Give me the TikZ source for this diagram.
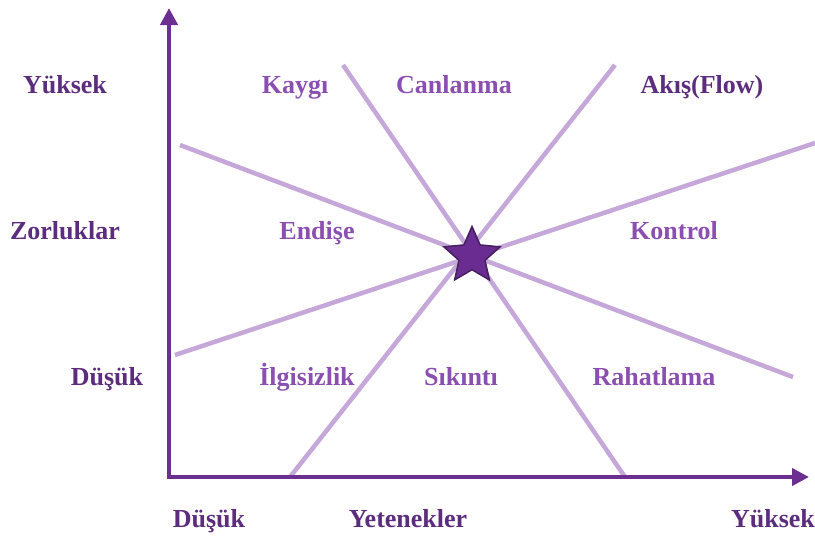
\documentclass[tikz,border=0pt]{standalone}
\usepackage{fontspec}
\setmainfont{Liberation Serif}
\usetikzlibrary{arrows.meta,shapes.geometric}
\definecolor{axiscol}{HTML}{6B2E91}
\definecolor{axislab}{HTML}{5C2D7E}
\definecolor{quadlab}{HTML}{8A4FB0}
\definecolor{linecol}{HTML}{C5A8D9}
\definecolor{starfill}{HTML}{6A2C91}
\definecolor{stardraw}{HTML}{45215F}
\tikzset{
  axislabel/.style={text=axislab, font=\fontsize{26}{30}\selectfont\bfseries, anchor=base, inner sep=0pt},
  quadlabel/.style={text=quadlab, font=\fontsize{26}{30}\selectfont\bfseries, anchor=base, inner sep=0pt},
  diag/.style={draw=linecol, line width=4.5pt},
  axisline/.style={draw=axiscol, line width=4pt, -{Triangle[length=17pt,width=17pt]}},
}
\begin{document}
\begin{tikzpicture}[x=1pt,y=-1pt]
\useasboundingbox (0,0) rectangle (815,536);
% coordinates
\coordinate (O) at (169,477);
\coordinate (Ob) at (169,479);
\coordinate (Ytop) at (169,8);
\coordinate (Xend) at (809,477);
\coordinate (a1) at (343,65);   \coordinate (a2) at (625,477);
\coordinate (b1) at (615,65);   \coordinate (b2) at (290,477);
\coordinate (c1) at (180,145);  \coordinate (c2) at (793,377);
\coordinate (d1) at (175,355);  \coordinate (d2) at (815,143);
% diagonal lines
\draw[diag] (a1) -- (a2);
\draw[diag] (b1) -- (b2);
\draw[diag] (c1) -- (c2);
\draw[diag] (d1) -- (d2);
% axes
\draw[axisline] (Ob) -- (Ytop);
\draw[axisline] ([xshift=-2pt]O) -- (Xend);
% star
\node[star, star points=5, star point ratio=2.15, minimum size=59pt, inner sep=0pt,
      fill=starfill, draw=stardraw, line width=1.5pt] (star) at (472,256) {};
% axis labels
\node[axislabel] (yhigh) at (65,93) {Yüksek};
\node[axislabel] (ychal) at (65,239) {Zorluklar};
\node[axislabel] (ylow) at (107,385) {Düşük};
\node[axislabel] (xlow) at (209,527) {Düşük};
\node[axislabel] (xskill) at (408,527) {Yetenekler};
\node[axislabel] (xhigh) at (773,527) {Yüksek};
\node[axislabel] (flow) at (702,93) {Akış(Flow)};
% quadrant labels
\node[quadlabel] (kaygi) at (295,93) {Kaygı};
\node[quadlabel] (canlanma) at (454,93) {Canlanma};
\node[quadlabel] (endise) at (317,239) {Endişe};
\node[quadlabel] (kontrol) at (674,239) {Kontrol};
\node[quadlabel] (ilgisiz) at (307,385) {İlgisizlik};
\node[quadlabel] (sikinti) at (461,385) {Sıkıntı};
\node[quadlabel] (rahat) at (654,385) {Rahatlama};
\end{tikzpicture}
\end{document}
